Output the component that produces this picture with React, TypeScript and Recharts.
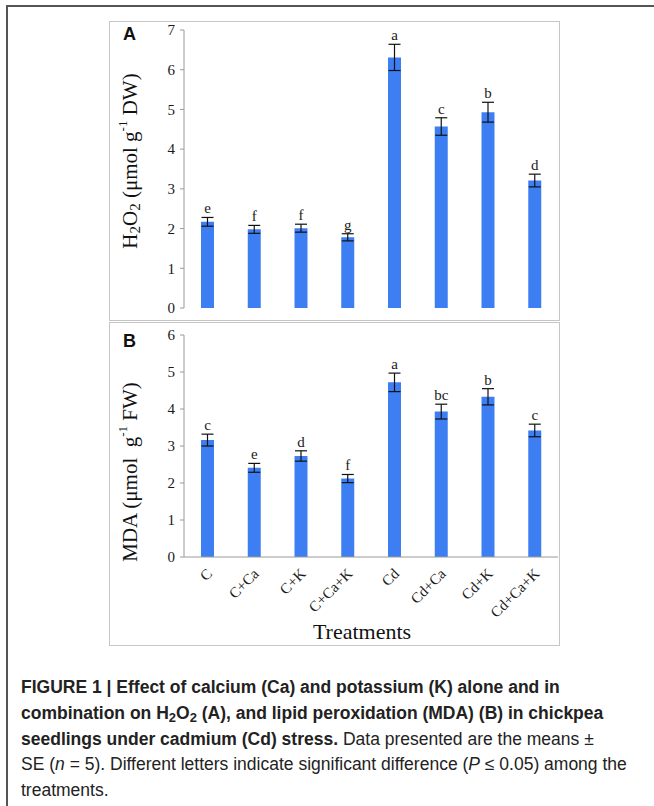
import * as React from 'react';
import { Bar, BarChart, ErrorBar, LabelList, XAxis, YAxis } from 'recharts';

const categories = ['C', 'C+Ca', 'C+K', 'C+Ca+K', 'Cd', 'Cd+Ca', 'Cd+K', 'Cd+Ca+K'];

const h2o2Means = [2.17, 1.98, 2.01, 1.78, 6.31, 4.57, 4.93, 3.21];
const h2o2Se = [0.11, 0.1, 0.1, 0.09, 0.33, 0.22, 0.25, 0.16];
const h2o2Letters = ['e', 'f', 'f', 'g', 'a', 'c', 'b', 'd'];
const h2o2Ticks = [0, 1, 2, 3, 4, 5, 6, 7];

const mdaMeans = [3.16, 2.41, 2.73, 2.12, 4.72, 3.93, 4.33, 3.42];
const mdaSe = [0.16, 0.12, 0.14, 0.11, 0.25, 0.2, 0.22, 0.17];
const mdaLetters = ['c', 'e', 'd', 'f', 'a', 'bc', 'b', 'c'];
const mdaTicks = [0, 1, 2, 3, 4, 5, 6];

const SERIF = "'Liberation Serif', 'Times New Roman', serif";
const SANS = "'Liberation Sans', Arial, Helvetica, sans-serif";
const BAR = '#3d7ff2';
const AXIS = '#9a9a9a';

const build = (means: number[], se: number[], letters: string[]) =>
  categories.map((name, i) => ({ name, value: means[i], err: se[i], letter: letters[i] }));

const h2o2Data = build(h2o2Means, h2o2Se, h2o2Letters);
const mdaData = build(mdaMeans, mdaSe, mdaLetters);

/** letter sits just above the top of the error bar */
function makeLetter(means: number[], se: number[]) {
  return function Letter(props: any) {
    const { x, y, width, height, value, index } = props;
    if (x == null || y == null || index == null) return null;
    const perUnit = height / means[index];
    const top = y - se[index] * perUnit;
    return (
      <text x={x + width / 2} y={top - 4} textAnchor="middle" fontFamily={SERIF} fontSize={15} fill="#1a1a1a">
        {value}
      </text>
    );
  };
}

function YTitle(props: any) {
  const { viewBox, kind } = props;
  const cy = viewBox ? viewBox.y + viewBox.height / 2 : 150;
  const x = 21;
  if (kind === 'A') {
    return (
      <text
        x={x}
        y={cy - 8}
        transform={`rotate(-90, ${x}, ${cy - 8})`}
        textAnchor="middle"
        dominantBaseline="central"
        fontFamily={SERIF}
        fontSize={21}
        fill="#111"
      >
        H<tspan fontSize={15} dy={5}>2</tspan>
        <tspan dy={-5}>O</tspan>
        <tspan fontSize={15} dy={5}>2</tspan>
        <tspan dy={-5}> (μmol g</tspan>
        <tspan fontSize={13} dy={-8}>-1</tspan>
        <tspan dy={8}> DW)</tspan>
      </text>
    );
  }
  return (
    <text
      x={x}
      y={cy + 26}
      transform={`rotate(-90, ${x}, ${cy + 26})`}
      textAnchor="middle"
      dominantBaseline="central"
      fontFamily={SERIF}
      fontSize={21}
      fill="#111"
      xmlSpace="preserve"
    >
      MDA (μmol  g<tspan fontSize={13} dy={-8}>-1</tspan>
      <tspan dy={8}> FW)</tspan>
    </text>
  );
}

function XTick(props: any) {
  const { x, y, payload } = props;
  return (
    <g transform={`translate(${x + 2},${y + 14})`}>
      <text
        x={0}
        y={0}
        dy="0.35em"
        transform="rotate(-45)"
        textAnchor="end"
        fontFamily={SERIF}
        fontSize={15}
        fill="#1a1a1a"
      >
        {payload.value}
      </text>
    </g>
  );
}

const yTick = { fontFamily: SERIF, fontSize: 15, fill: '#1a1a1a' };

const boxStyle = (left: number, top: number, width: number, height: number): React.CSSProperties => ({
  position: 'absolute',
  left,
  top,
  width,
  height,
  border: '1px solid #c6c6c6',
  boxSizing: 'border-box',
});

const panelLetter = (left: number, top: number): React.CSSProperties => ({
  position: 'absolute',
  left,
  top,
  fontFamily: SANS,
  fontWeight: 700,
  fontSize: 18,
  color: '#111',
  lineHeight: 1,
});

const subStyle: React.CSSProperties = { fontSize: 13, verticalAlign: '-3px', lineHeight: 0 };

export default function App() {
  return (
    <div
      style={{
        position: 'absolute',
        left: 0,
        top: 0,
        width: 654,
        height: 806,
        overflow: 'hidden',
        background: '#fff',
      }}
    >
      <div
        style={{
          position: 'absolute',
          left: 6,
          top: 5,
          width: 700,
          height: 900,
          borderTop: '2px solid #555',
          borderLeft: '2px solid #555',
        }}
      />

      <div style={boxStyle(109, 21, 451, 300)} />
      <div style={boxStyle(109, 322, 451, 324)} />

      <div style={{ position: 'absolute', left: 109, top: 21 }}>
        <BarChart width={450} height={300} data={h2o2Data} margin={{ top: 9, right: 1, bottom: 13, left: 0 }}>
          <XAxis dataKey="name" height={0} tick={false} tickLine={false} axisLine={{ stroke: AXIS }} />
          <YAxis
            width={75}
            domain={[0, 7]}
            ticks={h2o2Ticks}
            interval={0}
            tick={yTick}
            tickSize={4}
            tickMargin={5}
            tickLine={{ stroke: AXIS }}
            axisLine={{ stroke: AXIS }}
            label={<YTitle kind="A" />}
          />
          <Bar dataKey="value" fill={BAR} barSize={13} isAnimationActive={false}>
            <ErrorBar dataKey="err" width={6} stroke="#111" strokeWidth={1.2} direction="y" />
            <LabelList dataKey="letter" content={makeLetter(h2o2Means, h2o2Se)} />
          </Bar>
        </BarChart>
      </div>

      <div style={{ position: 'absolute', left: 109, top: 322 }}>
        <BarChart width={450} height={323} data={mdaData} margin={{ top: 13, right: 1, bottom: 0, left: 0 }}>
          <XAxis
            dataKey="name"
            height={88}
            interval={0}
            tick={<XTick />}
            tickSize={0}
            tickMargin={0}
            tickLine={false}
            axisLine={{ stroke: AXIS }}
            label={{
              value: 'Treatments',
              position: 'insideBottom',
              offset: 6,
              dx: -9,
              style: { fontFamily: SERIF, fontSize: 22, fill: '#111' },
            }}
          />
          <YAxis
            width={75}
            domain={[0, 6]}
            ticks={mdaTicks}
            interval={0}
            tick={yTick}
            tickSize={4}
            tickMargin={5}
            tickLine={{ stroke: AXIS }}
            axisLine={{ stroke: AXIS }}
            label={<YTitle kind="B" />}
          />
          <Bar dataKey="value" fill={BAR} barSize={13} isAnimationActive={false}>
            <ErrorBar dataKey="err" width={6} stroke="#111" strokeWidth={1.2} direction="y" />
            <LabelList dataKey="letter" content={makeLetter(mdaMeans, mdaSe)} />
          </Bar>
        </BarChart>
      </div>

      <div style={panelLetter(123, 25)}>A</div>
      <div style={panelLetter(123, 332)}>B</div>

      <div
        style={{
          position: 'absolute',
          left: 21,
          top: 675,
          width: 630,
          fontFamily: SANS,
          fontSize: 17.5,
          lineHeight: '25.8px',
          color: '#222',
          whiteSpace: 'nowrap',
        }}
      >
        <div style={{ fontWeight: 700 }}>FIGURE 1 | Effect of calcium (Ca) and potassium (K) alone and in</div>
        <div style={{ fontWeight: 700 }}>
          combination on H<sub style={subStyle}>2</sub>O<sub style={subStyle}>2</sub> (A), and lipid peroxidation (MDA)
          (B) in chickpea
        </div>
        <div>
          <span style={{ fontWeight: 700 }}>seedlings under cadmium (Cd) stress.</span> Data presented are the means ±
        </div>
        <div>
          SE (<i>n</i> = 5). Different letters indicate significant difference (<i>P</i> ≤ 0.05) among the
        </div>
        <div>treatments.</div>
      </div>
    </div>
  );
}
